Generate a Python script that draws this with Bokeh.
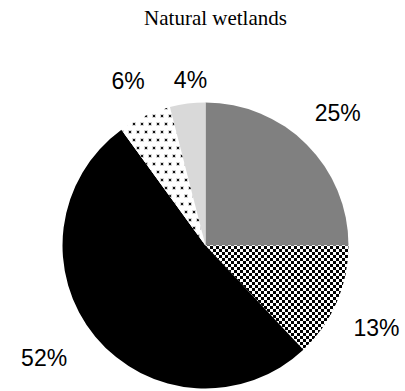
import math, zlib, struct, base64
from bokeh.plotting import figure
from bokeh.models import ColumnDataSource, Range1d, ImageURLTexture
from bokeh.core.properties import value
from bokeh.embed import file_html
from bokeh.resources import INLINE

# ---- data ----
title_text = "Natural wetlands"
categories = ["A", "B", "C", "D", "E"]
shares = [25, 13, 52, 6, 4]
labels = ["25%", "13%", "52%", "6%", "4%"]

# ---- style / layout ----
fills = ["#808080", "#ffffff", "#000000", "#ffffff", "#d9d9d9"]
hatches = [" ", "checker", " ", "dots", " "]
label_dist = [187, 190, 197, 182, 166]
label_nudge = [0, 2.5, 4.6, 0, 2]
W, H = 405, 391
cx, cy, R = 205, H - 245, 143


def png_uri(rows):
    h = len(rows); w = len(rows[0])
    raw = b"".join(b"\x00" + bytes(r) for r in rows)
    def chunk(t, d):
        return struct.pack(">I", len(d)) + t + d + struct.pack(">I", zlib.crc32(t + d) & 0xffffffff)
    png = (b"\x89PNG\r\n\x1a\n" + chunk(b"IHDR", struct.pack(">IIBBBBB", w, h, 8, 0, 0, 0, 0))
           + chunk(b"IDAT", zlib.compress(raw)) + chunk(b"IEND", b""))
    return "data:image/png;base64," + base64.b64encode(png).decode()


checker = [[0 if ((x // 3 + y // 3) % 2 == 0) else 255 for x in range(6)] for y in range(6)]
dots = [[255] * 8 for _ in range(16)]
for (dx, dy) in [(1, 3), (5, 11)]:
    for yy in range(dy - 1, dy + 3):
        for xx in range(dx - 1, dx + 3):
            dots[yy % 16][xx % 8] = 215
    for yy in range(dy, dy + 2):
        for xx in range(dx, dx + 2):
            dots[yy][xx] = 20

total = sum(shares)
cum = [0]
for s in shares:
    cum.append(cum[-1] + s)
start = [math.radians(90 - 360 * cum[i + 1] / total) for i in range(len(shares))]
end = [math.radians(90 - 360 * cum[i] / total) for i in range(len(shares))]
mid = [90 - 360 * (cum[i] + cum[i + 1]) / 2 / total - label_nudge[i] for i in range(len(shares))]
lx = [cx + label_dist[i] * math.cos(math.radians(mid[i])) for i in range(len(shares))]
ly = [cy + label_dist[i] * math.sin(math.radians(mid[i])) for i in range(len(shares))]

src = ColumnDataSource(dict(cat=categories, start=start, end=end, fill=fills, hatch=hatches,
                            x=[cx] * len(shares), y=[cy] * len(shares)))
lsrc = ColumnDataSource(dict(x=lx, y=ly, text=labels))

p = figure(width=W, height=H, x_range=Range1d(0, W), y_range=Range1d(0, H),
           output_backend="svg", toolbar_location=None, min_border=0)
p.axis.visible = False
p.grid.visible = False
p.outline_line_color = None
p.background_fill_color = "white"
p.border_fill_color = "white"

p.wedge(x="x", y="y", radius=R, start_angle="start", end_angle="end", source=src,
        fill_color="fill", line_color=None, hatch_pattern="hatch",
        hatch_extra={"checker": ImageURLTexture(url=png_uri(checker)),
                     "dots": ImageURLTexture(url=png_uri(dots))})

p.text(x="x", y="y", text="text", source=lsrc, text_font=value("Liberation Sans"),
       text_font_size="23px", text_align="center", text_baseline="middle", text_color="#000000")

p.text(x=[215], y=[H - 17], text=[title_text], text_font=value("Liberation Serif"),
       text_font_size="21px", text_align="center", text_baseline="middle", text_color="#000000")

open("out.html", "w").write(file_html(p, INLINE))
